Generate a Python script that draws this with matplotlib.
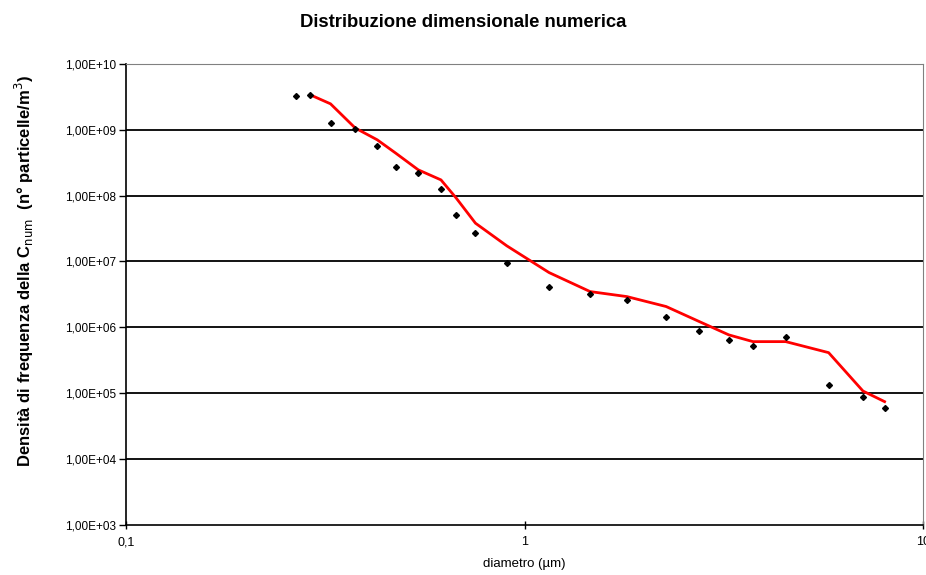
import matplotlib
matplotlib.use("Agg")
import matplotlib.pyplot as plt
import matplotlib.ticker as mticker

# measured points (diametro in um, density in n/m3)
diametro = [0.267, 0.290, 0.326, 0.376, 0.427, 0.475, 0.541, 0.617, 0.674, 0.753,
            0.902, 1.152, 1.46, 1.805, 2.265, 2.746, 3.254, 3.74, 4.52, 5.79,
            7.06, 8.0]
densita = [3.27e9, 3.38e9, 1.26e9, 1.02e9, 5.69e8, 2.76e8, 2.24e8, 1.25e8, 5.15e7, 2.75e7,
           9.43e6, 4.07e6, 3.22e6, 2.61e6, 1.43e6, 8.93e5, 6.45e5, 5.28e5, 7.23e5, 1.35e5,
           8.88e4, 6.04e4]

# red trend line (moving average)
trend_x = [0.290, 0.326, 0.376, 0.427, 0.475, 0.541, 0.617, 0.674, 0.753, 0.902,
           1.152, 1.46, 1.805, 2.265, 2.746, 3.254, 3.74, 4.52, 5.79, 7.06, 8.0]
trend_y = [3.38e9, 2.47e9, 1.06e9, 7.02e8, 4.41e8, 2.46e8, 1.73e8, 9.14e7, 3.81e7, 1.73e7,
           6.78e6, 3.49e6, 2.93e6, 2.07e6, 1.22e6, 7.68e5, 6.07e5, 6.07e5, 4.13e5, 1.08e5,
           7.45e4]

y_ticks = [1e3, 1e4, 1e5, 1e6, 1e7, 1e8, 1e9, 1e10]
y_labels = ["1,00E+03", "1,00E+04", "1,00E+05", "1,00E+06",
            "1,00E+07", "1,00E+08", "1,00E+09", "1,00E+10"]
x_ticks = [0.1, 1, 10]
x_labels = ["0,1", "1", "10"]

plt.rcParams["font.family"] = ["Liberation Sans", "DejaVu Sans"]

fig = plt.figure(figsize=(9.26, 5.75), dpi=100)
ax = fig.add_axes([0.136, 0.087, 0.861, 0.802])

ax.set_xscale("log")
ax.set_yscale("log")
ax.set_xlim(0.1, 10)
ax.set_ylim(1e3, 1e10)

for t in y_ticks[1:]:
    ax.axhline(t, color="black", linewidth=1.3, zorder=1)

ax.plot(trend_x, trend_y, color="#ff0000", linewidth=2, zorder=3)
ax.plot(diametro, densita, linestyle="none", marker="D", markersize=3,
        color="black", zorder=4)

ax.yaxis.set_major_locator(mticker.FixedLocator(y_ticks))
ax.yaxis.set_major_formatter(mticker.FixedFormatter(y_labels))
ax.yaxis.set_minor_locator(mticker.NullLocator())
ax.xaxis.set_major_locator(mticker.FixedLocator(x_ticks))
ax.xaxis.set_major_formatter(mticker.FixedFormatter(x_labels))
ax.xaxis.set_minor_locator(mticker.NullLocator())
ax.tick_params(axis="y", direction="out", length=5, width=1, labelsize=8.5, pad=2)
ax.tick_params(axis="x", direction="inout", length=6, width=1, labelsize=9, pad=5)

ax.spines["left"].set_linewidth(1.2)
ax.spines["bottom"].set_linewidth(1.2)
ax.spines["top"].set_color("#808080")
ax.spines["right"].set_color("#808080")

ax.set_xlabel("diametro (\u00b5m)", fontsize=9.5, labelpad=7)
ax.set_ylabel("Densit\u00e0 di frequenza della C$_{\\rm num}$  (n\u00b0 particelle/m$^3$)",
              fontsize=12, fontweight="bold")
ax.yaxis.set_label_coords(-0.113, 0.55)
fig.suptitle("Distribuzione dimensionale numerica", x=0.5, y=0.975,
             fontsize=13.3, fontweight="bold")

fig.savefig("out.png", dpi=100)
